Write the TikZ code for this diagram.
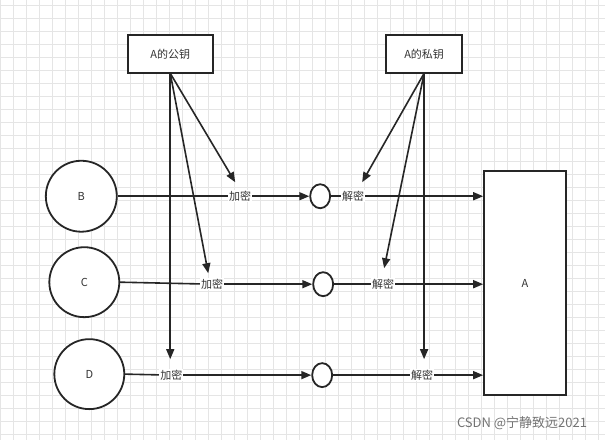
\documentclass[tikz,border=0pt]{standalone}
\usepackage{fontspec}
\setmainfont{Noto Sans CJK SC}
\usetikzlibrary{arrows.meta,shapes.geometric}
\begin{document}
\begin{tikzpicture}[x=1pt,y=-1pt,
  fnt/.style={font=\fontsize{11}{13}\selectfont,text=black!80},
  box/.style={draw=black!85,line width=1.8pt,fill=white,minimum width=#1,minimum height=38pt,inner sep=0pt,fnt},
  cir/.style={draw=black!85,line width=1.8pt,fill=white,circle,minimum size=#1,fnt},
  sm/.style={draw=black!85,line width=1.8pt,fill=white,ellipse,minimum width=20pt,minimum height=24pt},
  lbl/.style={fill=white,inner sep=1pt,fnt},
  ar/.style={draw=black!85,line width=1.6pt,-{Triangle[length=10pt,width=8pt]}},
  ln/.style={draw=black!85,line width=1.6pt}]
\fill[white] (0,0) rectangle (615,440);
\foreach \i in {0,...,46} {\draw[black!10,line width=0.7pt] (\i*13,0) -- (\i*13,440);}
\foreach \j in {0,...,33} {\draw[black!10,line width=0.7pt] (0,\j*13+5) -- (605,\j*13+5);}
\node[box=85pt] (pub) at (170,54) {A的公钥};
\node[box=76pt] (priv) at (424,54) {A的私钥};
\node[draw=black!85,line width=1.8pt,fill=white,minimum width=82pt,minimum height=224pt,fnt] (A) at (525,283) {A};
\node[cir=71pt] (B) at (81,196) {B};
\node[cir=70pt] (C) at (84,282) {C};
\node[cir=70pt] (D) at (89,374) {D};
\node[sm] (o1) at (320,196) {};
\node[sm] (o2) at (323,284) {};
\node[sm] (o3) at (322,375) {};
\coordinate (pb) at (170,73);
\coordinate (pv) at (424,73);
\draw[ar] (pb) -- (235,182);
\draw[ar] (pb) -- (208,273);
\draw[ar] (pb) -- (170,359);
\draw[ar] (pv) -- (362,182);
\draw[ar] (pv) -- (384,268);
\draw[ar] (pv) -- (424,359);
\draw[ln] (B.east) -- (240,196); \draw[ar] (240,196) -- (o1.west);
\draw[ln] (o1.east) -- (353,196); \draw[ar] (353,196) -- (A.west |- o1);
\draw[ln] (C.east) -- (212,284); \draw[ar] (212,284) -- (o2.west);
\draw[ln] (o2.east) -- (383,284); \draw[ar] (383,284) -- (A.west |- o2);
\draw[ln] (D.east) -- (171,375); \draw[ar] (171,375) -- (o3.west);
\draw[ln] (o3.east) -- (422,375); \draw[ar] (422,375) -- (A.west |- o3);
\node[lbl] (e1) at (240,196) {加密};
\node[lbl] (d1) at (353,196) {解密};
\node[lbl] (e2) at (212,284) {加密};
\node[lbl] (d2) at (383,284) {解密};
\node[lbl] (e3) at (171,375) {加密};
\node[lbl] (d3) at (422,375) {解密};
\node[font=\fontsize{13}{15}\selectfont,text=black!55] (wm) at (522,423) {CSDN @宁静致远2021};
\end{tikzpicture}
\end{document}
